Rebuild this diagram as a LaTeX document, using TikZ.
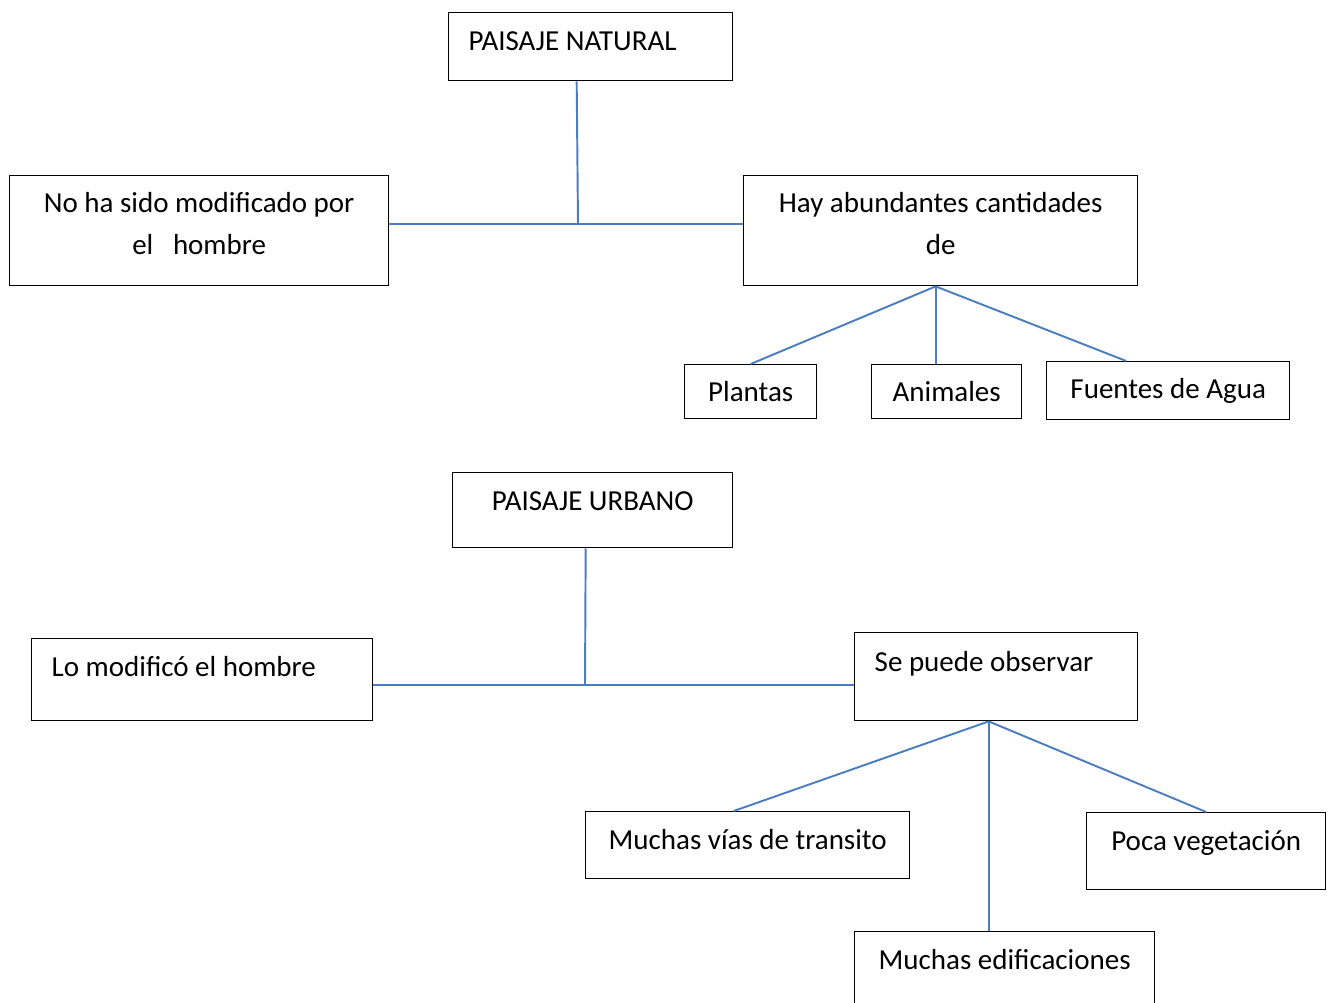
\documentclass[tikz,border=0pt]{standalone}
\usepackage{fontspec}
\setmainfont{Carlito}
\usepackage{tikz}
\usetikzlibrary{calc}
\newcommand{\cuerpo}{\fontsize{16.5}{23.5}\selectfont}
\definecolor{azul}{HTML}{4A7EBF}
\tikzset{
  caja/.style={draw=black, line width=0.8pt, rectangle, inner sep=0pt, anchor=north west, font=\cuerpo},
  unalinea/.style={text height=0.4cm, text depth=#1},
  doslineas/.style={align=center, text height=1.23cm, text depth=0.29cm},
  izq/.style={align=flush left, text width=#1, inner xsep=0.4cm},
  rama/.style={draw=azul, line width=1.1pt},
}

\begin{document}
\begin{tikzpicture}[x=0.02cm, y=-0.02cm]
\useasboundingbox (0,0) rectangle (1331,1003);
\clip (0,0) rectangle (1331,1003);

% paisaje natural
\node[caja, unalinea=0.24cm, izq=4.88cm, minimum width=5.68cm, minimum height=1.36cm] (natural) at (448,12) {PAISAJE NATURAL};
\node[caja, doslineas, minimum width=7.58cm, minimum height=2.2cm] (nomod) at (9,175) {No ha sido modificado por\\el\ \ \ hombre};
\node[caja, doslineas, minimum width=7.88cm, minimum height=2.2cm] (hay) at (743,175) {Hay abundantes cantidades\\de};
\node[caja, minimum width=2.64cm, minimum height=1.08cm] (plantas) at (684,364) {Plantas};
\node[caja, minimum width=3cm, minimum height=1.08cm] (animales) at (871,364) {Animales};
\node[caja, minimum width=4.86cm, minimum height=1.16cm] (fuentes) at (1046,361) {Fuentes de Agua};

\coordinate (njoin) at (578,224);
\draw[rama] ([xshift=-0.28cm]natural.south) -- (njoin);
\draw[rama] (nomod.east |- njoin) -- (hay.west |- njoin);
\draw[rama] ([xshift=-0.1cm]hay.south) -- (plantas.north);
\draw[rama] ([xshift=-0.1cm]hay.south) -- ([xshift=-0.1cm]hay.south |- animales.north);
\draw[rama] ([xshift=-0.1cm]hay.south) -- ([xshift=-0.84cm]fuentes.north);

% paisaje urbano
\node[caja, unalinea=0.38cm, minimum width=5.6cm, minimum height=1.5cm] (urbano) at (452,472) {PAISAJE URBANO};
\node[caja, unalinea=0.52cm, izq=6.02cm, minimum width=6.82cm, minimum height=1.64cm] (modif) at (31,638) {Lo modificó el hombre};
\node[caja, unalinea=0.6cm, izq=4.86cm, minimum width=5.66cm, minimum height=1.76cm] (observar) at (854,632) {Se puede observar};
\node[caja, unalinea=0.22cm, minimum width=6.48cm, minimum height=1.34cm] (vias) at (585,811) {Muchas vías de transito};
\node[caja, unalinea=0.42cm, minimum width=4.78cm, minimum height=1.54cm] (poca) at (1086,812) {Poca vegetación};
\node[caja, unalinea=0.88cm, minimum width=6cm, minimum height=2cm] (edif) at (854,931) {Muchas edificaciones};

\coordinate (ujoin) at (585,685);
\draw[rama] ([xshift=-0.14cm]urbano.south) -- (ujoin);
\draw[rama] (modif.east |- ujoin) -- (observar.west |- ujoin);
\draw[rama] ([xshift=-0.15cm]observar.south) -- ([xshift=-0.28cm]vias.north);
\draw[rama] ([xshift=-0.15cm]observar.south) -- ([xshift=-0.15cm]observar.south |- edif.north);
\draw[rama] ([xshift=-0.15cm]observar.south) -- (poca.north);

\end{tikzpicture}
\end{document}
